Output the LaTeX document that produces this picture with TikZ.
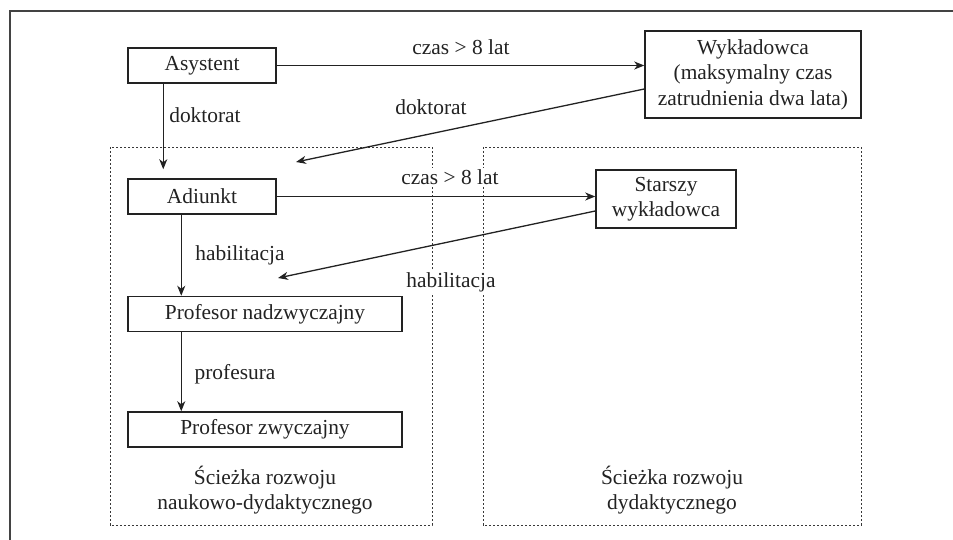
\documentclass[tikz,border=0pt]{standalone}
\usepackage{fontspec}
\setmainfont{Liberation Serif}
\usetikzlibrary{arrows.meta,calc}
\definecolor{ink}{HTML}{222222}
\begin{document}
\begin{tikzpicture}[x=1pt,y=-1pt,
  font=\fontsize{21.4}{25.5}\selectfont,
  every node/.style={text=ink},
  box/.style={draw=ink, line width=1.5pt, inner sep=0pt, align=center},
  lbl/.style={fill=white, inner sep=1pt, align=center},
  conn/.style={draw=ink, line width=1.3pt, -{Stealth[length=10pt,width=8pt,inset=3pt]}},
  dotbox/.style={draw=ink!90, line width=0.95pt, dash pattern=on 2.2pt off 1.8pt},
  frame/.style={draw=ink!85, line width=1.4pt}]
\useasboundingbox (0,0) rectangle (953,540);
% outer frame (left and top edges)
\draw[frame] (10,540) -- (10,11) -- (953,11);
% dotted regions
\draw[dotbox] (110,147) rectangle (432,525);
\draw[dotbox] (483,147) rectangle (861,525);
% labels
\node[lbl] (l1) at (461,47) {czas > 8 lat};
\node[lbl] (l2) at (205,115) {doktorat};
\node[lbl] (l3) at (431,107) {doktorat};
\node[lbl] (l4) at (450,177) {czas > 8 lat};
\node[lbl] (l5) at (240,255) {habilitacja};
\node[lbl] (l6) at (451,282) {habilitacja};
\node[lbl] (l7) at (235,374) {profesura};
\node[lbl] (t1) at (265,490) {Ścieżka rozwoju\\naukowo-dydaktycznego};
\node[lbl] (t2) at (672,490) {Ścieżka rozwoju\\dydaktycznego};
% boxes
\node[box, minimum width=148pt, minimum height=35pt] (asy) at (202,65.5) {Asystent};
\node[box, minimum width=216pt, minimum height=87pt] (wyk) at (753,74.5) {Wykładowca\\(maksymalny czas\\zatrudnienia dwa lata)};
\node[box, minimum width=148pt, minimum height=35pt] (adi) at (202,196.5) {Adiunkt};
\node[box, minimum width=140pt, minimum height=58pt] (sta) at (666,199) {Starszy\\wykładowca};
\node[box, minimum width=274pt, minimum height=35pt] (pn) at (265,314) {Profesor nadzwyczajny};
\node[box, minimum width=274pt, minimum height=35pt] (pz) at (265,429.5) {Profesor zwyczajny};
% free ends
\coordinate (c1) at (296,162);
\coordinate (c2) at (278,278);
% connectors
\draw[conn] (asy.east) -- (asy.east -| wyk.west);
\draw[conn, shorten >=9pt] ($(asy.south west)+(36,0)$) -- ($(adi.north west)+(36,0)$);
\draw[conn] ($(wyk.west)+(0,14.5)$) -- (c1);
\draw[conn] (adi.east) -- (adi.east -| sta.west);
\draw[conn] ($(sta.west)+(0,12)$) -- (c2);
\draw[conn] ($(adi.south west)+(54,0)$) -- ($(pn.north west)+(54,0)$);
\draw[conn] ($(pn.south west)+(54,0)$) -- ($(pz.north west)+(54,0)$);
\end{tikzpicture}
\end{document}
